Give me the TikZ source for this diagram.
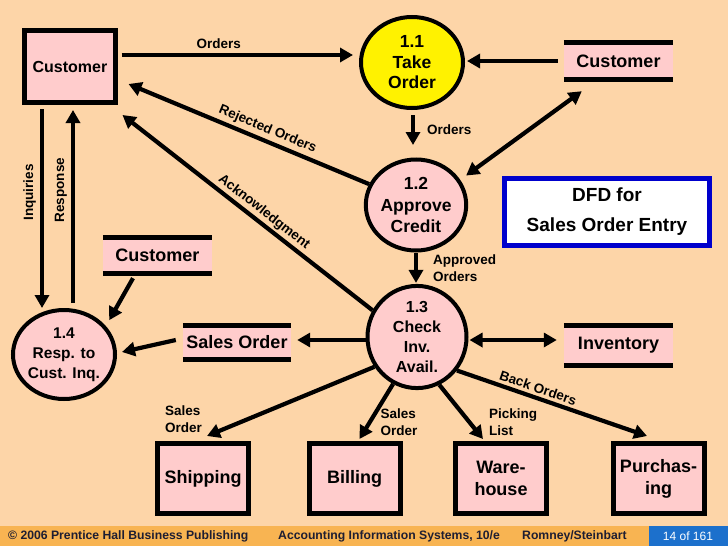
\documentclass[tikz,border=0pt]{standalone}
\usepackage{fontspec}
\setmainfont{Liberation Sans}
\usetikzlibrary{arrows.meta,shapes.geometric,calc}
\definecolor{bgpeach}{RGB}{253,213,168}
\definecolor{pinkfill}{RGB}{255,204,204}
\definecolor{footbar}{RGB}{248,180,82}
\definecolor{footblue}{RGB}{28,112,204}
\definecolor{dfdblue}{RGB}{0,0,204}
\definecolor{foottext}{RGB}{30,30,50}
\newcommand{\fsz}[2]{\fontsize{#1}{#2}\selectfont}
\begin{document}
\begin{tikzpicture}[x=1pt,y=-1pt,
  proc/.style={ellipse, draw, line width=4pt, fill=pinkfill, inner sep=0pt, align=center},
  ent/.style={rectangle, draw, line width=5pt, fill=pinkfill, inner sep=0pt, align=center, minimum width=91pt, minimum height=70pt, font=\bfseries\fsz{18}{22}},
  store/.style={rectangle, fill=pinkfill, inner sep=0pt, minimum width=109pt, font=\bfseries\fsz{18}{22}},
  sline/.style={line width=5pt},
  flow/.style={line width=4.2pt, -{Triangle[length=13pt,width=14pt]}},
  bflow/.style={line width=4.2pt, {Triangle[length=13pt,width=14pt]}-{Triangle[length=13pt,width=14pt]}},
  lbl/.style={font=\bfseries\fsz{13.5}{17}, align=left, inner sep=1pt},
  foot/.style={font=\bfseries\fsz{12.2}{14}, text=foottext, inner sep=0pt}
]
\useasboundingbox (0,0) rectangle (728,546);
\fill[bgpeach] (0,0) rectangle (728,546);
\fill[footbar] (0,526) rectangle (728,546);
\fill[footblue] (649,526) rectangle (728,546);
\node[foot, anchor=west] (f1) at (8,536) {© 2006 Prentice Hall Business Publishing};
\node[foot, anchor=west] (f2) at (278,536) {Accounting Information Systems, 10/e};
\node[foot, anchor=west] (f3) at (522,536) {Romney/Steinbart};
\node[font=\fsz{12}{14}, text=white, inner sep=0pt] (f4) at (688,536) {14 of 161};

% entities
\node[ent, minimum height=72pt, font=\bfseries\fsz{16}{19}] (cust1) at (70,66.5) {Customer};
\node[ent] (ship) at (203,478.5) {Shipping};
\node[ent] (bill) at (354.5,478.5) {Billing};
\node[ent] (ware) at (501,478.5) {Ware-\\house};
\node[ent] (purch) at (658.5,478.5) {Purchas-\\ing};

% processes
\node[proc, fill=yellow, minimum width=102pt, minimum height=91pt, font=\bfseries\fsz{17.5}{20.5}] (p11) at (412,62.5) {1.1\\Take\\Order};
\node[proc, minimum width=99pt, minimum height=91pt, font=\bfseries\fsz{17.5}{21.5}] (p12) at (416,205) {1.2\\Approve\\Credit};
\node[proc, minimum width=99pt, minimum height=88pt, font=\bfseries\fsz{16}{20.3}] (p13) at (417,337) {1.3\\Check\\Inv.\\Avail.};
\node[proc, minimum width=102pt, minimum height=89pt, font=\bfseries\fsz{15.5}{20}] (p14) at (64,354.5) {1.4\\Resp. to\\Cust. Inq.};

% stores
\node[store, minimum height=37pt] (cust2) at (618.5,61) {Customer};
\node[store, minimum height=39pt] (inv) at (618.5,345.5) {Inventory};
\node[store, minimum width=108pt, minimum height=33pt] (so) at (237,342.5) {Sales Order};
\node[store, minimum height=35pt] (cust3) at (157.5,255.5) {Customer};
\foreach \s in {cust2,inv,so,cust3}{
  \draw[sline] (\s.north west) -- (\s.north east) (\s.south west) -- (\s.south east);
}

% DFD title box
\node[draw=dfdblue, line width=4.5pt, fill=white, minimum width=205pt, minimum height=67pt, align=center, font=\bfseries\fsz{19}{30}] (dfd) at (607,212) {DFD for\\Sales Order Entry};

% flows
\draw[flow] ($(cust1.east)+(3.5,-11.5)$) -- node[lbl, above=3pt, pos=0.42]{Orders} ($(p11.west)+(-6,-7.5)$);
\draw[flow] ($(cust2.west)+(-6,0)$) -- ($(p11.east |- cust2.west)+(2,0)$);
\draw[flow] ($(p11.south)+(1,5)$) -- node[lbl, right=11pt]{Orders} ($(p11.south |- p12.north)+(1,-12.5)$);
\draw[bflow] ($(p12.30)+(6,-4)$) -- ($(cust2.south west)+(18,11.5)$);
\draw[flow] (p12.south) -- node[lbl, right=14pt, pos=0.5]{Approved\\Orders} ($(p12.south |- p13.north)+(0,-1)$);
\draw[flow] (p12.156) -- node[lbl, sloped, above=2pt, pos=0.44]{Rejected Orders} ($(cust1.east)+(10.5,17.5)$);
\draw[flow] (p13.149) -- node[lbl, sloped, above=1pt, pos=0.46]{Acknowledgment} ($(cust1.south east)+(4.5,10)$);
\draw[bflow] ($(p13.east)+(1,3)$) -- ($(inv.west |- p13.east)+(-7,3)$);
\draw[flow] ($(p13.west)+(0,3)$) -- ($(so.east |- p13.west)+(6,3)$);
\draw[flow] ($(so.west)+(-7,-2.5)$) -- ($(p14.east)+(5,-2.5)$);
\draw[flow] ($(cust3.south)+(-24.5,5)$) -- ($(p14.37)+(5,-4)$);
\draw[flow] ($(cust1.south)+(-28,4)$) -- node[lbl, pos=0.42, rotate=90, anchor=south, inner sep=4pt]{Inquiries} ($(cust1.south |- p14.north)+(-28,0)$);
\draw[flow] ($(cust1.south |- p14.north)+(3,-5)$) -- node[lbl, pos=0.585, rotate=90, anchor=south, inner sep=4pt]{Response} ($(cust1.south)+(3,5)$);
\draw[flow] (p13.215) -- node[lbl, pos=1, anchor=south east, xshift=-2pt]{Sales\\Order} ($(ship.north)+(4,-5)$);
\draw[flow] (p13.243) -- node[lbl, pos=1, anchor=south west, xshift=18pt]{Sales\\Order} ($(bill.north)+(5,-2)$);
\draw[flow] (p13.295) -- node[lbl, pos=1, anchor=south west, xshift=3pt]{Picking\\List} ($(ware.north)+(-18,-2)$);
\draw[flow] (p13.320) -- node[lbl, sloped, above=2pt, pos=0.41]{Back Orders} ($(purch.north)+(-11.5,-5)$);
\end{tikzpicture}
\end{document}
